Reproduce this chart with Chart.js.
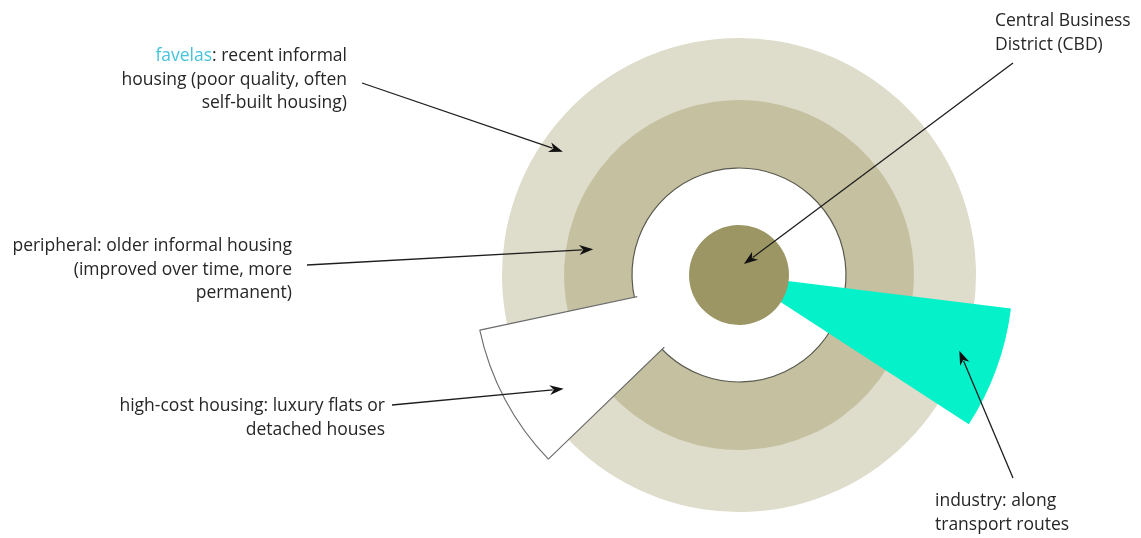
<!DOCTYPE html>
<html lang="en">
<head>
  <meta charset="UTF-8">
  <title>Land use in a city of the developing world</title>
  <script src="https://cdn.jsdelivr.net/npm/chart.js"></script>
  <style>
    body {
      margin: 0;
      background: #fff;
    }

    #wrap {
      position: relative;
      width: 1141px;
      height: 538px;
      font-family: "Open Sans", "Noto Sans", sans-serif;
      font-size: 17.5px;
      color: #262626;
    }

    #grafico {
      position: absolute;
      left: 0;
      top: 0;
    }

    .rotulo {
      position: absolute;
      line-height: 23.5px;
      white-space: nowrap;
    }

    .direita { text-align: right; }
    .destaque { color: #45c3dc; }
  </style>
</head>
<body>
  <div id="wrap">
    <canvas id="grafico" width="1141" height="538"></canvas>

    <div class="rotulo direita" style="right:794px; top:43px">
      <span class="destaque">favelas</span>: recent informal<br>housing (poor quality, often<br>self-built housing)
    </div>
    <div class="rotulo direita" style="right:849px; top:233px">
      peripheral: older informal housing<br>(improved over time, more<br>permanent)
    </div>
    <div class="rotulo direita" style="right:756px; top:393px">
      high-cost housing: luxury flats or<br>detached houses
    </div>
    <div class="rotulo" style="left:995px; top:8px">
      Central Business<br>District (CBD)
    </div>
    <div class="rotulo" style="left:935px; top:488px">
      industry: along<br>transport routes
    </div>
  </div>

  <script>
    // raios externos dos aneis (unidades da escala radial)
    const aneis = ['favelas', 'peripheral', 'inner city'];
    const raiosAneis = [237, 175, 107];
    const raioCBD = 50;

    // setores: [espaco antes, setor, resto] em graus, a partir do leste
    const angulosAltoPadrao = [136, 32, 192];
    const raioAltoPadrao = [0, 265, 0];
    const angulosIndustria = [7, 26, 327];
    const raioIndustria = [0, 274, 0];

    // circulos completos comecam dentro do setor da industria (esconde a linha radial da borda)
    const angulosCirculo = [20, 360];

    const cores = {
      favelas: '#dedcca',
      peripheral: '#c4c0a0',
      inner: '#ffffff',
      cbd: '#9c9664',
      industria: '#04f1c9'
    };

    // setas: origem em pixels (junto ao texto), ponta em angulo/raio da escala
    const setas = [
      { x: 362, y: 83, angulo: 215, raio: 215 },
      { x: 307, y: 265, angulo: 190, raio: 148 },
      { x: 392, y: 405, angulo: 147, raio: 209 },
      { x: 1013, y: 63, angulo: 294, raio: 12 },
      { x: 1013, y: 478, angulo: 19, raio: 233 }
    ];

    function circulo(raio, cor, borda) {
      return {
        data: [0, raio],
        angle: c => angulosCirculo[c.dataIndex],
        backgroundColor: cor,
        borderWidth: borda ? 1.2 : 0,
        borderColor: '#5a5a50',
        clip: false
      };
    }

    function setor(raios, angulos, cor, borda) {
      return {
        data: raios,
        angle: c => angulos[c.dataIndex],
        backgroundColor: cor,
        borderWidth: borda ? 1.1 : 0,
        borderColor: '#6a6a6a',
        clip: false
      };
    }

    const pluginSetas = {
      id: 'setas',
      afterDatasetsDraw(chart) {
        const r = chart.scales.r;
        const ctx = chart.ctx;
        ctx.save();
        ctx.strokeStyle = '#1e1e1e';
        ctx.fillStyle = '#111';
        ctx.lineWidth = 1.3;
        setas.forEach(s => {
          const a = s.angulo * Math.PI / 180;
          const d = r.getDistanceFromCenterForValue(s.raio);
          const hx = r.xCenter + Math.cos(a) * d;
          const hy = r.yCenter + Math.sin(a) * d;
          const ang = Math.atan2(hy - s.y, hx - s.x);
          const comp = 14, larg = 5;
          const bx = hx - Math.cos(ang) * comp;
          const by = hy - Math.sin(ang) * comp;
          ctx.beginPath();
          ctx.moveTo(s.x, s.y);
          ctx.lineTo(bx + Math.cos(ang) * 3, by + Math.sin(ang) * 3);
          ctx.stroke();
          ctx.beginPath();
          ctx.moveTo(hx, hy);
          ctx.lineTo(bx - Math.sin(ang) * larg, by + Math.cos(ang) * larg);
          ctx.lineTo(bx + Math.cos(ang) * 4, by + Math.sin(ang) * 4);
          ctx.lineTo(bx + Math.sin(ang) * larg, by - Math.cos(ang) * larg);
          ctx.closePath();
          ctx.fill();
        });
        ctx.restore();
      }
    };

    // o primeiro dataset fica por cima
    new Chart(document.getElementById('grafico'), {
      type: 'polarArea',
      data: {
        labels: ['a', 'b', 'c'],
        datasets: [
          circulo(raioCBD, cores.cbd, false),
          setor(raioIndustria, angulosIndustria, cores.industria, false),
          circulo(raiosAneis[2] - 3, cores.inner, false),
          setor(raioAltoPadrao, angulosAltoPadrao, '#ffffff', true),
          circulo(raiosAneis[2], cores.inner, true),
          circulo(raiosAneis[1], cores.peripheral, false),
          circulo(raiosAneis[0], cores.favelas, false)
        ]
      },
      options: {
        responsive: false,
        animation: false,
        events: [],
        layout: { padding: { left: 476, right: 139, top: 12, bottom: 0 } },
        scales: {
          r: { display: false, min: 0, max: 263, startAngle: 90 }
        },
        plugins: {
          legend: { display: false },
          tooltip: { enabled: false }
        }
      },
      plugins: [pluginSetas]
    });
  </script>
</body>
</html>
